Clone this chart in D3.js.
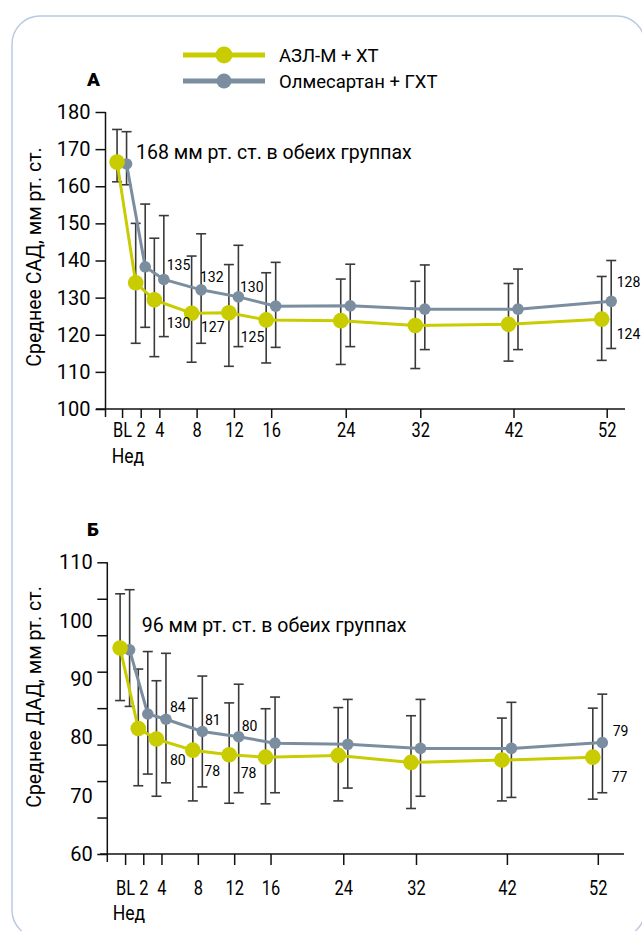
<!DOCTYPE html>
<html><head><meta charset="utf-8">
<script src="https://cdn.jsdelivr.net/npm/d3@7"></script>
<style>
body{margin:0;background:#fff}
svg{display:block}
text{font-family:Roboto,"Noto Sans",sans-serif;fill:#000;font-weight:400}
</style>
</head><body>
<svg id="chart" width="642" height="931"></svg>
<script>
// ---------- data ----------
const weeks = [0, 2, 4, 8, 12, 16, 24, 32, 42, 52];
const weekLabels = ["BL", "2", "4", "8", "12", "16", "24", "32", "42", "52"];
const seriesNames = ["АЗЛ-М + ХТ", "Олмесартан + ГХТ"];

// Panel A – systolic BP (mean, lower and upper whisker)
const sbpAzl   = [166.5, 134.0, 129.4, 125.8, 125.9, 124.0, 123.8, 122.5, 122.8, 124.2];
const sbpAzlLo = [161.2, 117.7, 114.1, 112.6, 111.5, 112.4, 112.0, 110.9, 112.9, 113.1];
const sbpAzlHi = [175.3, 150.0, 146.0, 141.2, 138.9, 136.7, 135.0, 134.4, 133.8, 135.7];
const sbpOlm   = [166.0, 138.3, 134.9, 132.1, 130.2, 127.7, 127.8, 126.9, 126.9, 129.0];
const sbpOlmLo = [160.4, 122.0, 119.5, 117.7, 116.8, 116.6, 116.8, 116.0, 116.0, 116.3];
const sbpOlmHi = [174.7, 155.2, 152.1, 147.2, 144.1, 139.5, 139.0, 138.8, 137.7, 140.0];

// Panel B – diastolic BP
const dbpAzl   = [95.3, 81.5, 79.7, 77.8, 77.0, 76.6, 76.9, 75.7, 76.1, 76.6];
const dbpAzlLo = [86.3, 71.7, 69.9, 69.1, 68.7, 68.6, 69.1, 67.8, 69.1, 69.4];
const dbpAzlHi = [104.6, 91.7, 89.7, 86.7, 85.9, 84.9, 85.1, 83.7, 83.3, 85.0];
const dbpOlm   = [95.0, 84.0, 83.1, 81.0, 80.1, 79.0, 78.8, 78.1, 78.1, 79.1];
const dbpOlmLo = [85.3, 73.7, 72.2, 71.5, 70.5, 70.5, 71.3, 69.9, 69.7, 70.5];
const dbpOlmHi = [105.3, 94.7, 94.4, 90.5, 89.1, 86.9, 86.5, 86.5, 86.0, 87.4];

// axis ticks
const sbpTicks = [100, 110, 120, 130, 140, 150, 160, 170, 180];
const dbpTickLabels = [60, 70, 80, 90, 100, 110];
const dbpTickMarks = [60, 66.25, 72.5, 78.75, 85, 91.25, 97.5, 103.75, 110];

// annotations (text, week, value)
const sbpNote = {text: "168 мм рт. ст. в обеих группах", week: 1.5, value: 167.3};
const dbpNote = {text: "96 мм рт. ст. в обеих группах", week: 1.83, value: 98.1};
const sbpValueLabels = [
  {text: "135", week: 4.79, value: 137.4}, {text: "132", week: 8.36, value: 134.3},
  {text: "130", week: 12.65, value: 131.6}, {text: "130", week: 4.79, value: 121.7},
  {text: "127", week: 8.47, value: 120.7}, {text: "125", week: 12.73, value: 118.0},
  {text: "128", week: 53.07, value: 132.9}, {text: "124", week: 53.07, value: 118.9}
];
const dbpValueLabels = [
  {text: "84", week: 4.94, value: 84.4}, {text: "81", week: 8.79, value: 82.1},
  {text: "80", week: 12.83, value: 81.0}, {text: "80", week: 4.94, value: 75.3},
  {text: "78", week: 8.71, value: 73.4}, {text: "78", week: 12.72, value: 73.1},
  {text: "79", week: 53.64, value: 80.2}, {text: "77", week: 53.53, value: 72.4}
];

// ---------- style ----------
const YELLOW = "#c8cc00", GRAY = "#7b8ea0", BAR = "#3a3a3a";
const svg = d3.select("#chart");

// frame
svg.append("rect").attr("x", 12).attr("y", 16).attr("width", 633).attr("height", 922)
  .attr("rx", 28).attr("fill", "none").attr("stroke", "#b8cae3").attr("stroke-width", 1.5);

// legend
const legend = [{name: seriesNames[0], color: YELLOW, r: 8.5, y: 55},
                {name: seriesNames[1], color: GRAY, r: 7.5, y: 81}];
legend.forEach(l => {
  const g = svg.append("g");
  g.append("line").attr("x1", 183).attr("x2", 265).attr("y1", l.y).attr("y2", l.y)
    .attr("stroke", l.color).attr("stroke-width", 5);
  g.append("circle").attr("cx", 224).attr("cy", l.y).attr("r", l.r).attr("fill", l.color);
  g.append("text").attr("x", 279).attr("y", l.y + 6.5).attr("font-size", 18.5).text(l.name);
});

function panel(cfg) {
  const x = d3.scaleLinear().domain([0, 52]).range(cfg.xRange);
  const y = d3.scaleLinear().domain(cfg.yDomain).range(cfg.yRange);
  const g = svg.append("g");

  // panel letter
  g.append("text").attr("x", 87).attr("y", cfg.letterY).attr("font-size", 19)
    .style("font-weight", 900).text(cfg.letter);

  // y axis ticks (marks)
  const yMarks = g.append("g").attr("transform", `translate(${cfg.axisX},0)`)
    .call(d3.axisLeft(y).tickValues(cfg.yMarks).tickSize(10).tickFormat(""));
  yMarks.select(".domain").remove();
  yMarks.selectAll(".tick line").attr("stroke", "#111").attr("stroke-width", 1.5);
  // y labels
  const yLab = g.append("g").attr("transform", `translate(${cfg.axisX},0)`)
    .call(d3.axisLeft(y).tickValues(cfg.yLabels).tickSize(0).tickPadding(cfg.yPad));
  yLab.select(".domain").remove();
  yLab.selectAll("text").attr("font-size", 20).attr("font-family", null).attr("fill", "#000");
  // y axis line
  g.append("line").attr("x1", cfg.axisX).attr("x2", cfg.axisX)
    .attr("y1", y(cfg.yDomain[1])).attr("y2", y(cfg.yDomain[0]) + 8)
    .attr("stroke", "#111").attr("stroke-width", 1.5);

  // x axis
  const xg = g.append("g").attr("transform", `translate(0,${y(cfg.yDomain[0])})`)
    .call(d3.axisBottom(x).tickValues(weeks).tickSize(cfg.xTick).tickPadding(cfg.xPad)
      .tickFormat((d, i) => weekLabels[i]));
  xg.select(".domain").remove();
  xg.selectAll(".tick line").attr("stroke", "#111").attr("stroke-width", 1.5);
  xg.selectAll("text").attr("font-size", 20).attr("font-family", null).attr("fill", "#000")
    .attr("transform", "scale(0.82,1)");
  g.append("line").attr("x1", cfg.xLine[0]).attr("x2", cfg.xLine[1])
    .attr("y1", y(cfg.yDomain[0])).attr("y2", y(cfg.yDomain[0]))
    .attr("stroke", "#111").attr("stroke-width", 1.5);
  g.append("text").attr("x", cfg.nedX).attr("y", cfg.nedY).attr("font-size", 20)
    .attr("transform", `translate(${cfg.nedX},0) scale(0.88,1) translate(${-cfg.nedX},0)`)
    .text("Нед");

  // y title
  g.append("text").attr("transform", `translate(41,${cfg.titleY}) rotate(-90)`)
    .attr("text-anchor", "middle").attr("font-size", 19.5).text(cfg.title);

  // series
  const series = [
    {mean: cfg.olm, lo: cfg.olmLo, hi: cfg.olmHi, color: GRAY, r: 5.8, off: 4.5},
    {mean: cfg.azl, lo: cfg.azlLo, hi: cfg.azlHi, color: YELLOW, r: 7.8, off: -5}
  ];
  // error bars
  series.forEach(s => {
    const eb = g.append("g").attr("stroke", BAR).attr("stroke-width", 1.6);
    weeks.forEach((w, i) => {
      const cx = x(w) + s.off;
      eb.append("line").attr("x1", cx).attr("x2", cx).attr("y1", y(s.lo[i])).attr("y2", y(s.hi[i]));
      eb.append("line").attr("x1", cx - 5).attr("x2", cx + 5).attr("y1", y(s.lo[i])).attr("y2", y(s.lo[i]));
      eb.append("line").attr("x1", cx - 5).attr("x2", cx + 5).attr("y1", y(s.hi[i])).attr("y2", y(s.hi[i]));
    });
  });
  // lines + points
  series.forEach(s => {
    const line = d3.line().x((d, i) => x(weeks[i]) + s.off).y(d => y(d));
    g.append("path").datum(s.mean).attr("d", line).attr("fill", "none")
      .attr("stroke", s.color).attr("stroke-width", 3);
    g.selectAll(null).data(s.mean).enter().append("circle")
      .attr("cx", (d, i) => x(weeks[i]) + s.off).attr("cy", d => y(d))
      .attr("r", s.r).attr("fill", s.color);
  });

  // annotation
  g.append("text").attr("x", x(cfg.note.week)).attr("y", y(cfg.note.value))
    .attr("font-size", 19.5).text(cfg.note.text);
  cfg.valueLabels.forEach(l => {
    g.append("text").attr("x", x(l.week)).attr("y", y(l.value)).attr("font-size", 14).text(l.text);
  });
}

panel({
  letter: "А", letterY: 86,
  xRange: [122.06, 606.7], yDomain: [100, 180], yRange: [409, 112],
  axisX: 105.5, yMarks: sbpTicks, yLabels: sbpTicks, yPad: 15,
  xTick: 9, xPad: 5.3, xLine: [96, 625], nedX: 111.7, nedY: 463,
  title: "Среднее САД, мм рт. ст.", titleY: 257,
  azl: sbpAzl, azlLo: sbpAzlLo, azlHi: sbpAzlHi,
  olm: sbpOlm, olmLo: sbpOlmLo, olmHi: sbpOlmHi,
  note: sbpNote, valueLabels: sbpValueLabels
});

panel({
  letter: "Б", letterY: 536,
  xRange: [125.1, 597.8], yDomain: [60, 110], yRange: [854, 562.3],
  axisX: 107.3, yMarks: dbpTickMarks, yLabels: dbpTickLabels, yPad: 14.6,
  xTick: 11, xPad: 16.3, xLine: [100, 624], nedX: 112.7, nedY: 920,
  title: "Среднее ДАД, мм рт. ст.", titleY: 697,
  azl: dbpAzl, azlLo: dbpAzlLo, azlHi: dbpAzlHi,
  olm: dbpOlm, olmLo: dbpOlmLo, olmHi: dbpOlmHi,
  note: dbpNote, valueLabels: dbpValueLabels
});
</script>
</body></html>
